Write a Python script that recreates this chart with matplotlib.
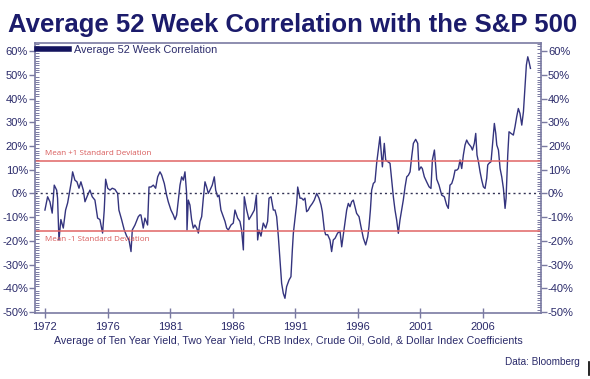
import matplotlib.pyplot as plt
import matplotlib.ticker as mticker
from matplotlib.lines import Line2D

plt.rcParams['font.family'] = ['Liberation Sans', 'DejaVu Sans']

# average 52 week correlation (%)
years = [1972.00, 1972.21, 1972.39, 1972.57, 1972.73, 1972.92, 1972.99, 1973.10, 1973.25, 1973.44,
         1973.62, 1973.78, 1973.91, 1974.09, 1974.17, 1974.35, 1974.51, 1974.67, 1974.82, 1975.01,
         1975.14, 1975.35, 1975.53, 1975.71, 1975.92, 1976.13, 1976.31, 1976.52, 1976.65, 1976.76,
         1976.92, 1977.10, 1977.28, 1977.49, 1977.70, 1977.80, 1978.01, 1978.22, 1978.41, 1978.59,
         1978.75, 1978.85, 1979.06, 1979.32, 1979.45, 1979.53, 1979.71, 1979.84, 1980.05, 1980.16,
         1980.31, 1980.50, 1980.68, 1980.84, 1981.02, 1981.15, 1981.36, 1981.54, 1981.67, 1981.88,
         1982.07, 1982.20, 1982.33, 1982.46, 1982.59, 1982.72, 1982.85, 1982.98, 1983.11, 1983.14,
         1983.24, 1983.37, 1983.50, 1983.63, 1983.76, 1983.90, 1984.03, 1984.16, 1984.29, 1984.42,
         1984.55, 1984.68, 1984.81, 1984.94, 1985.12, 1985.28, 1985.39, 1985.54, 1985.65, 1985.80,
         1985.99, 1986.12, 1986.25, 1986.38, 1986.59, 1986.77, 1986.90, 1987.11, 1987.29, 1987.42,
         1987.56, 1987.63, 1987.82, 1988.00, 1988.21, 1988.42, 1988.58, 1988.68, 1988.78, 1988.94,
         1989.12, 1989.31, 1989.46, 1989.57, 1989.73, 1989.91, 1990.04, 1990.17, 1990.30, 1990.43,
         1990.56, 1990.69, 1990.82, 1990.95, 1991.14, 1991.29, 1991.40, 1991.48, 1991.61, 1991.74,
         1991.82, 1992.00, 1992.13, 1992.26, 1992.39, 1992.52, 1992.65, 1992.78, 1992.97, 1993.12,
         1993.31, 1993.49, 1993.65, 1993.75, 1993.91, 1994.01, 1994.17, 1994.35, 1994.48, 1994.61,
         1994.75, 1994.95, 1995.14, 1995.27, 1995.48, 1995.66, 1995.79, 1995.92, 1996.05, 1996.18,
         1996.31, 1996.44, 1996.63, 1996.78, 1996.97, 1997.15, 1997.31, 1997.41, 1997.52, 1997.62,
         1997.75, 1997.88, 1998.01, 1998.14, 1998.27, 1998.35, 1998.46, 1998.61, 1998.72, 1998.88,
         1999.06, 1999.19, 1999.32, 1999.45, 1999.58, 1999.71, 1999.84, 1999.97, 2000.10, 2000.24,
         2000.37, 2000.50, 2000.63, 2000.76, 2000.89, 2001.07, 2001.23, 2001.33, 2001.49, 2001.59,
         2001.75, 2001.93, 2002.12, 2002.27, 2002.38, 2002.54, 2002.72, 2002.90, 2003.11, 2003.32,
         2003.50, 2003.63, 2003.76, 2003.90, 2004.03, 2004.16, 2004.29, 2004.42, 2004.55, 2004.68,
         2004.81, 2004.94, 2005.07, 2005.20, 2005.41, 2005.52, 2005.67, 2005.78, 2005.88, 2005.99,
         2006.12, 2006.25, 2006.38, 2006.51, 2006.64, 2006.72, 2006.82, 2006.98, 2007.09, 2007.24,
         2007.35, 2007.43, 2007.56, 2007.69, 2007.82, 2007.95, 2008.08, 2008.16, 2008.29, 2008.39,
         2008.55, 2008.73, 2008.86, 2008.99, 2009.12, 2009.25, 2009.39, 2009.52, 2009.65, 2009.75,
         2009.86, 2009.96, 2010.07]
corr = [-7.0, -1.4, -3.5, -8.3, 3.5, 1.4, -2.0, -19.6, -11.0, -14.6,
        -7.0, -4.0, 0.0, 5.6, 9.1, 5.6, 4.9, 2.2, 4.9, 1.4,
        -3.5, -0.7, 1.4, -1.4, -2.8, -10.4, -11.0, -16.7, -7.0, 6.0,
        2.2, 1.4, 2.2, 1.7, 0.0, -7.0, -11.0, -15.4, -18.0, -19.6,
        -24.5, -15.4, -13.3, -9.8, -9.0, -9.1, -14.6, -10.4, -13.3, 2.7,
        2.7, 3.5, 2.2, 7.0, 9.1, 7.8, 4.2, -0.7, -3.5, -7.0,
        -9.1, -11.0, -9.1, -2.8, 3.5, 7.0, 5.6, 9.1, 0.0, -15.4,
        -2.8, -4.9, -11.0, -14.6, -13.3, -14.6, -16.7, -11.8, -9.8, -2.0,
        4.9, 2.7, 0.0, 1.4, 3.5, 7.0, 1.4, -1.4, -0.7, -7.0,
        -9.8, -11.8, -14.6, -15.4, -13.3, -12.5, -7.0, -10.4, -11.8, -15.4,
        -23.8, -1.4, -7.0, -11.0, -9.1, -7.0, -0.7, -19.6, -15.4, -18.0,
        -12.5, -14.6, -11.8, -2.0, -1.4, -7.0, -7.0, -9.8, -18.0, -28.0,
        -37.9, -42.1, -44.2, -39.3, -36.5, -35.1, -23.8, -16.7, -10.4, -4.2,
        2.7, -2.0, -2.0, -2.8, -2.0, -7.7, -7.0, -5.6, -4.2, -2.8,
        0.0, -2.0, -4.9, -7.7, -15.4, -17.4, -17.4, -19.6, -24.5, -19.6,
        -18.9, -16.7, -16.0, -22.5, -14.0, -7.0, -4.2, -5.6, -3.5, -2.8,
        -5.6, -8.4, -9.8, -14.0, -18.9, -21.7, -18.3, -14.0, -7.0, 1.4,
        4.2, 4.9, 12.7, 18.3, 23.9, 18.3, 11.2, 21.1, 14.1, 13.4,
        12.7, 5.6, -1.4, -7.0, -11.2, -16.8, -11.2, -7.0, -2.8, 2.8,
        7.0, 7.7, 9.1, 15.5, 21.1, 22.8, 21.1, 9.8, 11.2, 10.5,
        7.0, 4.9, 2.8, 2.1, 14.1, 18.3, 6.0, 3.5, -0.7, -1.4,
        -4.9, -6.3, 3.5, 4.2, 6.4, 9.8, 9.8, 10.5, 14.1, 10.5,
        16.2, 20.4, 22.5, 21.1, 19.7, 18.3, 21.1, 25.3, 16.2, 13.4,
        9.1, 5.6, 2.8, 2.1, 6.4, 12.0, 12.7, 13.4, 20.4, 29.5,
        25.3, 20.4, 18.3, 10.5, 7.0, 2.1, -6.3, -2.0, 16.2, 26.0,
        25.3, 24.6, 28.1, 32.3, 35.8, 33.7, 28.8, 34.4, 45.7, 54.1,
        57.6, 55.5, 52.7]

mean_plus_sd = 13.5
mean_minus_sd = -16.0

tick_labels = ['1972', '1976', '1981', '1986', '1991', '1996', '2001', '2006']
# axis ticks every 256 weeks starting at the first observation
tick_pos = [1972 + i * 256 / 52.18 for i in range(len(tick_labels))]

navy = '#1b1b6b'
label_col = '#2a2a6a'
spine_col = '#7a7aa2'

fig = plt.figure(figsize=(5.9, 3.79), dpi=100)
fig.patch.set_facecolor('white')
ax = fig.add_axes([0.0593, 0.1741, 0.8577, 0.7124])

ax.plot(years, corr, color='#34347e', lw=1.0)
ax.axhline(0, color='#333355', lw=1.0, ls=(0, (1.5, 2.2)))
ax.axhline(mean_plus_sd, color='#e06464', lw=1.1)
ax.axhline(mean_minus_sd, color='#e06464', lw=1.1)

ax.text(1972.0, mean_plus_sd + 2.0, 'Mean +1 Standard Deviation', color='#d85a5a',
        fontsize=5.8, family=['Open Sans', 'DejaVu Sans'], va='bottom')
ax.text(1972.0, mean_minus_sd - 2.0, 'Mean -1 Standard Deviation', color='#d85a5a',
        fontsize=5.8, family=['Open Sans', 'DejaVu Sans'], va='top')

ax.set_xlim(1971.22, 2010.90)
ax.set_ylim(-50.4, 63.4)

ax.set_xticks(tick_pos)
ax.set_xticklabels(tick_labels)
ax.tick_params(axis='x', direction='inout', length=7, width=1.0, color=spine_col,
               labelsize=8, labelcolor=label_col, pad=3)

ax.set_yticks(range(-50, 61, 10))
ax.yaxis.set_major_formatter(mticker.FuncFormatter(lambda v, p: f'{v:.0f}%'))
ax.yaxis.set_minor_locator(mticker.MultipleLocator(1))
ax.tick_params(axis='y', which='major', direction='out', length=4, width=1.0, color=spine_col,
               labelsize=8, labelcolor=label_col, left=True, right=True,
               labelleft=True, labelright=True, pad=1)
ax.tick_params(axis='y', which='minor', direction='in', length=3, width=0.7, color=spine_col,
               left=True, right=True)

for s in ax.spines.values():
    s.set_color(spine_col)
    s.set_linewidth(1.2)

handle = Line2D([], [], color='#14145e', lw=4)
ax.legend([handle], ['Average 52 Week Correlation'], loc='upper left', frameon=False,
          fontsize=7.8, handlelength=3.0, borderaxespad=0.05, borderpad=0.1,
          handletextpad=0.45, labelcolor=label_col)

ax.set_xlabel('Average of Ten Year Yield, Two Year Yield, CRB Index, Crude Oil, Gold, & Dollar Index Coefficients',
              fontsize=7.7, color=label_col, labelpad=3)

fig.text(0.013, 0.915, 'Average 52 Week Correlation with the S&P 500', fontsize=18.5,
         fontweight='bold', color=navy, ha='left', va='baseline')
fig.text(0.983, 0.038, 'Data: Bloomberg', fontsize=7.2, color=label_col, ha='right', va='baseline')
fig.add_artist(Line2D([0.998, 0.998], [0.01, 0.045], color='black', lw=1.2))

fig.savefig('out.png', dpi=100)
